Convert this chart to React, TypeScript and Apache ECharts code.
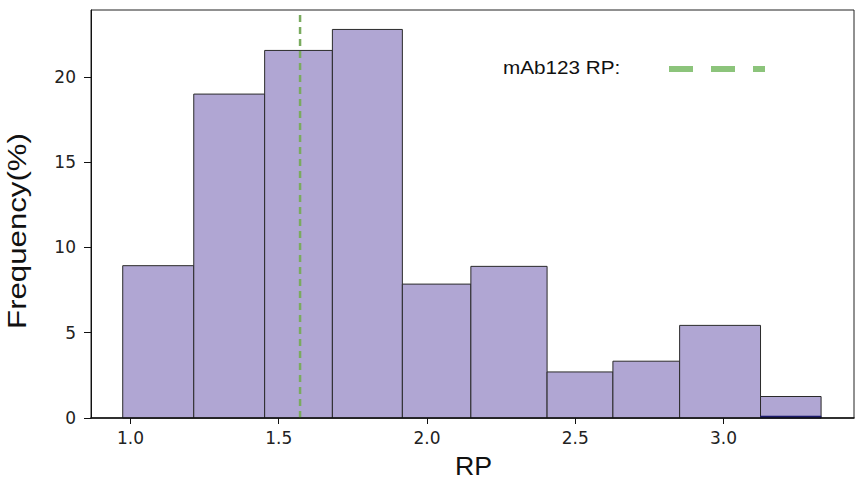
import React, { useEffect, useRef } from "react";
import * as echarts from "echarts";

// Histogram bin edges (RP) and frequencies (%)
const binEdges = [0.974, 1.2135, 1.4526, 1.681, 1.917, 2.148, 2.405, 2.627, 2.852, 3.1248, 3.329];
const frequencies = [8.93, 18.99, 21.55, 22.78, 7.85, 8.89, 2.7, 3.33, 5.43, 1.26];
// thin overlay (second, near-zero histogram seen on the last bin)
const overlayBins = [[3.1248, 3.329]];
const overlayValues = [0.12];
const referenceRP = 1.572;
const xTickValues = [1.0, 1.5, 2.0, 2.5, 3.0];
const yTickValues = [0, 5, 10, 15, 20];
const xRange = [0.867, 3.44];
const yRange = [0, 23.92];
const legendLabel = "mAb123 RP:";
const xAxisTitle = "RP";
const yAxisTitle = "Frequency(%)";

export default function App() {
  const ref = useRef<HTMLDivElement>(null);
  useEffect(() => {
    if (!ref.current) return;
    const chart = echarts.init(ref.current, null, { renderer: "svg" });
    const histData = frequencies.map((v, i) => [binEdges[i], binEdges[i + 1], v]);
    const overlayData = overlayValues.map((v, i) => [overlayBins[i][0], overlayBins[i][1], v]);
    const makeRender = (fill: string, stroke: string, lw: number) => (params: any, api: any) => {
      const s = api.value(0);
      const e = api.value(1);
      const v = api.value(2);
      const p0 = api.coord([s, v]);
      const p1 = api.coord([e, 0]);
      return {
        type: "rect",
        shape: { x: p0[0], y: p0[1], width: p1[0] - p0[0], height: p1[1] - p0[1] },
        style: { fill, stroke, lineWidth: lw },
      };
    };
    chart.setOption({
      animation: false,
      grid: {
        left: 91,
        right: 12,
        top: 10,
        bottom: 63,
        show: true,
        borderColor: "#222",
        borderWidth: 1,
        backgroundColor: "transparent",
      },
      xAxis: {
        type: "value",
        min: xRange[0],
        max: xRange[1],
        z: 5,
        axisLine: { show: true, lineStyle: { color: "#111", width: 1.6 } },
        axisTick: { show: true, length: 6, lineStyle: { color: "#111" }, customValues: xTickValues },
        axisLabel: {
          customValues: xTickValues,
          formatter: (v: number) => v.toFixed(1),
          fontFamily: "DejaVu Sans",
          fontSize: 17,
          color: "#222",
          margin: 11,
        },
        splitLine: { show: false },
      },
      yAxis: {
        type: "value",
        min: yRange[0],
        max: yRange[1],
        z: 5,
        axisLine: { show: true, lineStyle: { color: "#111", width: 1 } },
        axisTick: { show: true, length: 7, lineStyle: { color: "#111" }, customValues: yTickValues },
        axisLabel: {
          customValues: yTickValues,
          fontFamily: "DejaVu Sans",
          fontSize: 17,
          color: "#222",
          margin: 15,
        },
        splitLine: { show: false },
      },
      series: [
        {
          type: "custom",
          renderItem: makeRender("#b0a6d3", "#2a2a2a", 1),
          encode: { x: [0, 1], y: 2 },
          data: histData,
          z: 2,
        },
        {
          type: "custom",
          renderItem: makeRender("#1c1c6c", "#1c1c6c", 0.5),
          encode: { x: [0, 1], y: 2 },
          data: overlayData,
          z: 3,
        },
        {
          type: "line",
          data: [
            [referenceRP, yRange[0]],
            [referenceRP, yRange[1]],
          ],
          symbol: "none",
          lineStyle: { color: "#7aab5f", width: 2.5, type: [7, 5] },
          z: 4,
        },
      ],
      graphic: [
        {
          type: "text",
          x: 503,
          y: 68,
          scaleX: 1.15,
          style: {
            text: legendLabel,
            font: "18px 'Liberation Sans', Arial, sans-serif",
            fill: "#111",
            textAlign: "left",
            textVerticalAlign: "middle",
          },
        },
        {
          type: "line",
          shape: { x1: 669, y1: 69, x2: 765, y2: 69 },
          style: { stroke: "#8cc47b", lineWidth: 6, lineDash: [24, 18] },
        },
        {
          type: "text",
          x: 473.5,
          y: 466,
          scaleX: 1.07,
          style: {
            text: xAxisTitle,
            font: "25px 'Liberation Sans', Arial, sans-serif",
            fill: "#111",
            textAlign: "center",
            textVerticalAlign: "middle",
          },
        },
        {
          type: "text",
          x: 17,
          y: 231,
          rotation: Math.PI / 2,
          scaleX: 1.2,
          style: {
            text: yAxisTitle,
            font: "26px 'Liberation Sans', Arial, sans-serif",
            fill: "#111",
            textAlign: "center",
            textVerticalAlign: "middle",
          },
        },
      ],
    });
    return () => chart.dispose();
  }, []);
  return (
    <div
      ref={ref}
      style={{ position: "absolute", left: 0, top: 0, width: 866, height: 481, background: "#fff" }}
    />
  );
}
